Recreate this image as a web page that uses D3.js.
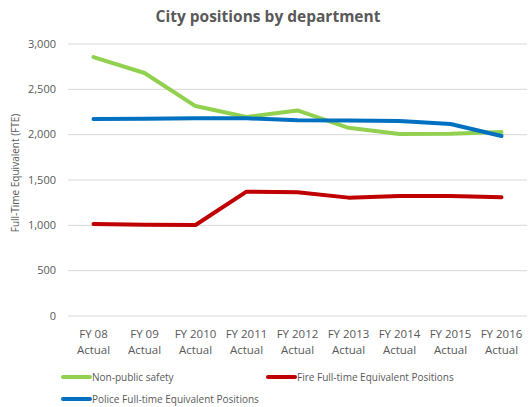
<!DOCTYPE html>
<html>
<head>
<meta charset="utf-8">
<script src="https://cdn.jsdelivr.net/npm/d3@7"></script>
<style>
  body { margin: 0; background: #fff; }
  text { font-family: "Open Sans", sans-serif; fill: #595959; }
</style>
</head>
<body>
<div id="chart"></div>
<script>
// data
const years = ["FY 08", "FY 09", "FY 2010", "FY 2011", "FY 2012", "FY 2013", "FY 2014", "FY 2015", "FY 2016"];
const nonPublic = [2850, 2675, 2310, 2190, 2262, 2070, 2002, 2005, 2024];
const fire = [1009, 1002, 998, 1366, 1359, 1300, 1319, 1318, 1304];
const police = [2167, 2170, 2175, 2175, 2153, 2150, 2145, 2112, 1980];
const yTicks = [0, 500, 1000, 1500, 2000, 2500, 3000];

const series = [
  {name: "Non-public safety", values: nonPublic, color: "#92D050"},
  {name: "Fire Full-time Equivalent Positions", values: fire, color: "#C00000"},
  {name: "Police Full-time Equivalent Positions", values: police, color: "#0070C0"}
];

const W = 531, H = 407;
const margin = {top: 43.5, right: 4, bottom: 91.5, left: 68};

const svg = d3.select("#chart").append("svg")
  .attr("width", W)
  .attr("height", H);

// title
svg.append("text")
  .attr("x", 268).attr("y", 22)
  .attr("text-anchor", "middle")
  .style("font-size", "15.5px")
  .style("font-weight", "bold")
  .text("City positions by department");

const g = svg.append("g")
  .attr("transform", `translate(${margin.left},${margin.top})`);

const width = W - margin.left - margin.right,
    height = H - margin.top - margin.bottom;

const x = d3.scaleBand()
  .domain(years)
  .range([0, width]);

const y = d3.scaleLinear()
  .domain([0, 3000])
  .range([height, 0]);

// gridlines + y labels
const yAxis = g.append("g")
  .call(d3.axisLeft(y).tickValues(yTicks).tickSize(-width).tickFormat(d3.format(",")));
yAxis.select(".domain").remove();
yAxis.selectAll("line").attr("stroke", "#d9d9d9");
yAxis.selectAll("text")
  .attr("x", -12)
  .style("font-size", "11px")
  .style("fill", "#595959");

// x labels, two lines each
const xAxis = g.append("g")
  .attr("transform", `translate(0,${height})`)
  .call(d3.axisBottom(x).tickSize(0).tickFormat(""));
xAxis.select(".domain").remove();
xAxis.selectAll(".tick").append("text")
  .attr("text-anchor", "middle")
  .style("font-size", "11.5px")
  .style("fill", "#595959")
  .each(function(d) {
    const t = d3.select(this);
    t.append("tspan").attr("x", 0).attr("y", 22).text(d);
    t.append("tspan").attr("x", 0).attr("y", 38).text("Actual");
  });

// y axis title
svg.append("text")
  .attr("transform", "translate(19,173) rotate(-90)")
  .attr("text-anchor", "middle")
  .style("font-size", "10px")
  .text("Full-Time Equivalent (FTE)");

// lines
const line = d3.line()
  .x((d, i) => x(years[i]) + x.bandwidth() / 2)
  .y(d => y(d));

g.selectAll(".series")
  .data(series)
  .join("path")
    .attr("class", "series")
    .attr("fill", "none")
    .attr("stroke", d => d.color)
    .attr("stroke-width", 4)
    .attr("stroke-linejoin", "round")
    .attr("stroke-linecap", "round")
    .attr("d", d => line(d.values));

// legend
const legendPos = [[63, 377], [268, 377], [63, 399]];
const legend = svg.selectAll(".legend")
  .data(series)
  .join("g")
    .attr("class", "legend")
    .attr("transform", (d, i) => `translate(${legendPos[i][0]},${legendPos[i][1]})`);
legend.append("line")
  .attr("x1", 0).attr("x2", 27)
  .attr("stroke", d => d.color)
  .attr("stroke-width", 4)
  .attr("stroke-linecap", "round");
legend.append("text")
  .attr("x", 29).attr("y", 4)
  .style("font-size", "10px")
  .text(d => d.name);
</script>
</body>
</html>
